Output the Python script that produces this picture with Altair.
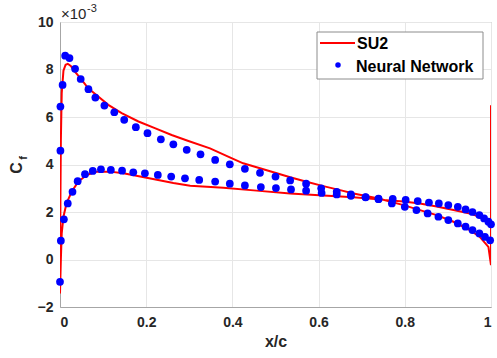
import altair as alt
import pandas as pd

# ---- data (Cf values in units of 1e-3) ----
su2_lo_x = [0.998, 0.982, 0.951, 0.913, 0.874, 0.835, 0.797, 0.758, 0.681, 0.611, 0.534, 0.456,
            0.379, 0.302, 0.263, 0.201, 0.147, 0.116, 0.085, 0.062, 0.042, 0.027, 0.015, 0.008,
            0.004, 0.002, 0.0]
su2_lo_y = [1.52, 1.73, 1.94, 2.08, 2.23, 2.36, 2.44, 2.5, 2.62, 2.69, 2.78, 2.9,
            3.02, 3.11, 3.22, 3.44, 3.63, 3.7, 3.7, 3.56, 3.27, 2.85, 2.36, 1.8,
            1.1, 0.0, -1.43]
su2_up_x = [0.0005, 0.001, 0.002, 0.004, 0.008, 0.013, 0.018, 0.025, 0.035, 0.05, 0.066, 0.081,
            0.112, 0.143, 0.182, 0.22, 0.259, 0.298, 0.348, 0.394, 0.425, 0.464, 0.503, 0.534,
            0.572, 0.611, 0.65, 0.681, 0.739, 0.797, 0.835, 0.874, 0.913, 0.951, 0.974, 0.994]
su2_up_y = [0.0, 2.5, 5.0, 7.0, 7.95, 8.2, 8.24, 8.15, 7.9, 7.57, 7.2, 6.98,
            6.51, 6.16, 5.81, 5.53, 5.24, 4.99, 4.68, 4.3, 4.05, 3.84, 3.63, 3.46,
            3.27, 3.09, 2.92, 2.78, 2.57, 2.29, 2.08, 1.87, 1.59, 1.24, 0.95, 0.53]
su2_te_x = [1.0, 1.0]
su2_te_y = [-0.24, 6.5]

nn_up_x = [0.001, 0.001, 0.006, 0.012, 0.022, 0.035, 0.048, 0.066, 0.082, 0.103, 0.126, 0.149,
           0.176, 0.203, 0.234, 0.263, 0.294, 0.326, 0.36, 0.394, 0.429, 0.464, 0.5, 0.534,
           0.571, 0.606, 0.642, 0.675, 0.709, 0.739, 0.77, 0.8, 0.827, 0.853, 0.878, 0.901,
           0.923, 0.941, 0.957, 0.973, 0.986, 0.998]
nn_up_y = [4.58, 6.44, 7.35, 8.58, 8.48, 8.03, 7.6, 7.17, 6.82, 6.48, 6.2, 5.88,
           5.57, 5.32, 5.06, 4.85, 4.62, 4.43, 4.19, 4.01, 3.82, 3.65, 3.49, 3.33,
           3.19, 3.0, 2.85, 2.74, 2.63, 2.54, 2.36, 2.22, 2.08, 1.94, 1.8, 1.66,
           1.52, 1.38, 1.24, 1.1, 0.95, 0.81]
nn_lo_x = [0.0, 0.002, 0.009, 0.018, 0.029, 0.041, 0.058, 0.076, 0.095, 0.118, 0.144, 0.17,
           0.197, 0.227, 0.258, 0.29, 0.323, 0.36, 0.394, 0.429, 0.466, 0.501, 0.536, 0.571,
           0.607, 0.642, 0.675, 0.709, 0.739, 0.772, 0.802, 0.83, 0.856, 0.879, 0.901, 0.923,
           0.941, 0.957, 0.973, 0.984, 0.994, 1.0]
nn_lo_y = [-0.94, 0.79, 1.69, 2.36, 2.85, 3.3, 3.59, 3.73, 3.8, 3.77, 3.74, 3.67,
           3.63, 3.56, 3.49, 3.42, 3.35, 3.28, 3.19, 3.12, 3.05, 3.01, 2.95, 2.9,
           2.8, 2.74, 2.68, 2.62, 2.56, 2.55, 2.51, 2.46, 2.4, 2.36, 2.29, 2.22,
           2.11, 2.0, 1.87, 1.73, 1.59, 1.48]

series_names = ["SU2", "Neural Network"]
x_ticks = [0, 0.2, 0.4, 0.6, 0.8, 1]
y_ticks = [-2, 0, 2, 4, 6, 8, 10]

FONT = "Liberation Sans"
TXT = "#262626"

su2_x = su2_lo_x + su2_up_x + su2_te_x
su2_y = su2_lo_y + su2_up_y + su2_te_y
su2_df = pd.DataFrame({"x": su2_x, "y": su2_y, "order": list(range(len(su2_x)))})
nn_df = pd.DataFrame({"x": nn_up_x + nn_lo_x, "y": nn_up_y + nn_lo_y})
one = pd.DataFrame({"a": [0]})

xs = alt.Scale(domain=[0, 1], nice=False, zero=False)
ys = alt.Scale(domain=[-2, 10], nice=False, zero=False)

line = alt.Chart(su2_df).mark_line(color="#FF0000", strokeWidth=2, clip=True).encode(
    x=alt.X("x:Q", scale=xs,
            axis=alt.Axis(values=x_ticks, format=".1~f", title="x/c", grid=True)),
    y=alt.Y("y:Q", scale=ys,
            axis=alt.Axis(values=y_ticks, format="d", title=None, grid=True)),
    order="order:Q",
)

points = alt.Chart(nn_df).mark_point(filled=True, color="#0000FF", size=60, opacity=1).encode(
    x=alt.X("x:Q", scale=xs), y=alt.Y("y:Q", scale=ys)
)

# legend (pixel positions relative to plot area)
leg_box = alt.Chart(one).mark_rect(fill="white", stroke="#8c8c8c", strokeWidth=1).encode(
    x=alt.value(257), x2=alt.value(423), y=alt.value(10), y2=alt.value(57))
leg_line = alt.Chart(one).mark_rule(color="#FF0000", strokeWidth=2).encode(
    x=alt.value(260), x2=alt.value(295), y=alt.value(21))
leg_dot = alt.Chart(one).mark_point(filled=True, color="#0000FF", size=30, opacity=1).encode(
    x=alt.value(278), y=alt.value(43))
leg_t1 = alt.Chart(one).mark_text(align="left", baseline="middle", font=FONT, fontWeight="bold",
                                  fontSize=16, color="black", text=series_names[0]).encode(
    x=alt.value(297), y=alt.value(22))
leg_t2 = alt.Chart(one).mark_text(align="left", baseline="middle", font=FONT, fontWeight="bold",
                                  fontSize=16, color="black", text=series_names[1]).encode(
    x=alt.value(296), y=alt.value(45))

# exponent label
exp1 = alt.Chart(one).mark_text(align="left", baseline="alphabetic", font=FONT, fontSize=15,
                                color=TXT, text="×10").encode(x=alt.value(1), y=alt.value(-3))
exp2 = alt.Chart(one).mark_text(align="left", baseline="alphabetic", font=FONT, fontSize=11,
                                color=TXT, text="-3").encode(x=alt.value(27), y=alt.value(-10))

# y title C_f
yt1 = alt.Chart(one).mark_text(align="center", baseline="middle", font=FONT, fontWeight="bold",
                               fontSize=16, color=TXT, angle=270, text="C").encode(
    x=alt.value(-43), y=alt.value(146))
yt2 = alt.Chart(one).mark_text(align="center", baseline="middle", font=FONT, fontWeight="bold",
                               fontSize=11, color=TXT, angle=270, text="f").encode(
    x=alt.value(-36), y=alt.value(136))

chart = alt.layer(line, points, leg_box, leg_line, leg_dot, leg_t1, leg_t2,
                  exp1, exp2, yt1, yt2).properties(
    width=431, height=285,
    autosize=alt.AutoSizeParams(type="none"),
    padding={"left": 60, "top": 22, "right": 6, "bottom": 51},
    background="white",
).configure_view(
    stroke="#a6a6a6", strokeWidth=1
).configure_axis(
    labelFont=FONT, labelFontWeight="bold", labelFontSize=14, labelColor=TXT,
    titleFont=FONT, titleFontWeight="bold", titleFontSize=16, titleColor=TXT,
    domainColor="#a6a6a6", domainWidth=1, ticks=False,
    gridColor="#e6e6e6", gridWidth=1,
).configure_axisX(
    labelPadding=8, titlePadding=4
).configure_axisY(
    labelPadding=7
)

chart.save("out.html", embed_options={"renderer": "svg", "actions": False})
